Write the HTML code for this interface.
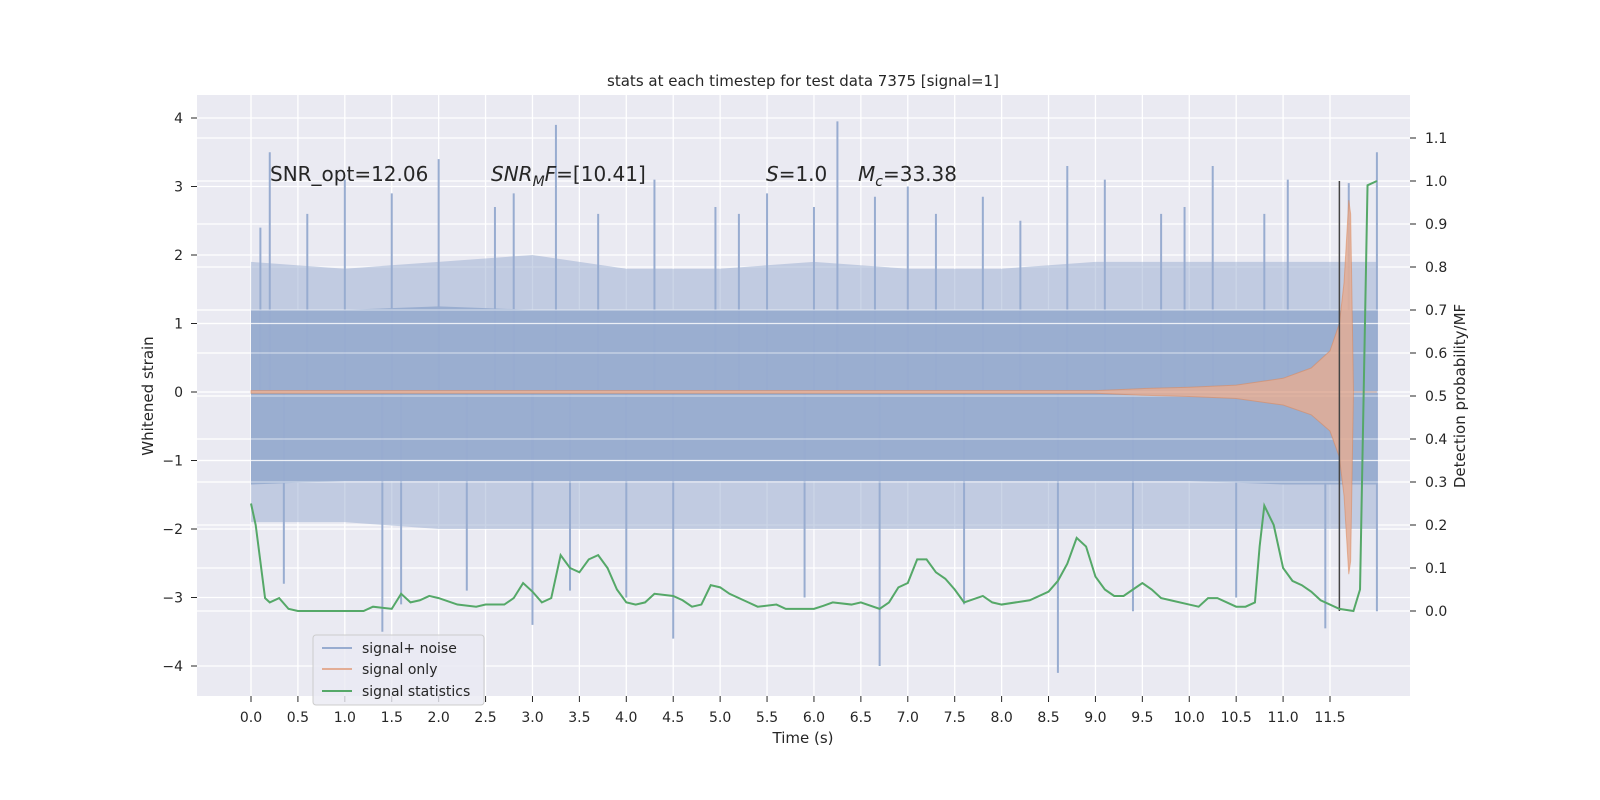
<!DOCTYPE html>
<html><head><meta charset="utf-8"><style>
html,body{margin:0;padding:0;width:1600px;height:800px;overflow:hidden;background:#fff;}
svg{display:block;font-family:"DejaVu Sans","Liberation Sans",sans-serif;}
</style></head><body>
<svg id="c" width="1600" height="800" viewBox="0 0 1600 800">
<rect x="197" y="95" width="1213" height="601" fill="#eaeaf2"/>
<g id="grid"></g><g id="marks"></g><g id="axes"></g>
<text x="803" y="86" text-anchor="middle" font-size="15" fill="#262626">stats at each timestep for test data 7375 [signal=1]</text>
<g font-size="20" fill="#262626">
<text x="270" y="181">SNR_opt=12.06</text>
<text x="491" y="181"><tspan font-style="italic">SNR</tspan><tspan font-style="italic" font-size="14" dy="5">M</tspan><tspan font-style="italic" dy="-5">F</tspan>=[10.41]</text>
<text x="766" y="181"><tspan font-style="italic">S</tspan>=1.0</text>
<text x="858" y="181"><tspan font-style="italic">M</tspan><tspan font-style="italic" font-size="14" dy="5">c</tspan><tspan dy="-5">=33.38</tspan></text>
</g>
<text x="803" y="743" text-anchor="middle" font-size="15" fill="#262626">Time (s)</text>
<text transform="translate(153,396) rotate(-90)" text-anchor="middle" font-size="15" fill="#262626">Whitened strain</text>
<text transform="translate(1465,396) rotate(-90)" text-anchor="middle" font-size="15" fill="#262626">Detection probability/MF</text>
<g>
<rect x="313" y="635" width="171" height="70" rx="3" fill="#eaeaf2" fill-opacity="0.8" stroke="#cccccc"/>
<line x1="322" y1="648" x2="352" y2="648" stroke="#98acd0" stroke-width="2"/>
<text x="362" y="653" font-size="14" fill="#262626">signal+ noise</text>
<line x1="322" y1="669" x2="352" y2="669" stroke="#e3ad95" stroke-width="2"/>
<text x="362" y="674" font-size="14" fill="#262626">signal only</text>
<line x1="322" y1="691" x2="352" y2="691" stroke="#55a868" stroke-width="2"/>
<text x="362" y="696" font-size="14" fill="#262626">signal statistics</text>
</g>
</svg>
<script>
const xTicks=[0,0.5,1,1.5,2,2.5,3,3.5,4,4.5,5,5.5,6,6.5,7,7.5,8,8.5,9,9.5,10,10.5,11,11.5];
const yTicks=[-4,-3,-2,-1,0,1,2,3,4];
const rTicks=[0,0.1,0.2,0.3,0.4,0.5,0.6,0.7,0.8,0.9,1.0,1.1];
const statT=[0,0.05,0.15,0.2,0.3,0.4,0.5,1.0,1.2,1.3,1.5,1.6,1.7,1.8,1.9,2.0,2.2,2.4,2.5,2.7,2.8,2.9,3.0,3.1,3.2,3.3,3.4,3.5,3.6,3.7,3.8,3.9,4.0,4.1,4.2,4.3,4.5,4.6,4.7,4.8,4.9,5.0,5.1,5.3,5.4,5.6,5.7,6.0,6.1,6.2,6.4,6.5,6.7,6.8,6.9,7.0,7.1,7.2,7.3,7.4,7.5,7.6,7.8,7.9,8.0,8.3,8.5,8.6,8.7,8.8,8.9,9.0,9.1,9.2,9.3,9.4,9.5,9.6,9.7,9.8,10.0,10.1,10.2,10.3,10.5,10.6,10.7,10.75,10.8,10.9,11.0,11.1,11.2,11.3,11.4,11.6,11.75,11.82,11.9,12.0];
const statV=[0.25,0.2,0.03,0.02,0.03,0.005,0.0,0.0,0.0,0.01,0.005,0.04,0.02,0.025,0.035,0.03,0.015,0.01,0.015,0.015,0.03,0.065,0.045,0.02,0.03,0.13,0.1,0.09,0.12,0.13,0.1,0.05,0.02,0.015,0.02,0.04,0.035,0.025,0.01,0.015,0.06,0.055,0.04,0.02,0.01,0.015,0.005,0.005,0.012,0.02,0.015,0.02,0.005,0.02,0.055,0.065,0.12,0.12,0.09,0.075,0.05,0.02,0.035,0.02,0.015,0.025,0.045,0.07,0.11,0.17,0.15,0.08,0.05,0.035,0.035,0.05,0.065,0.05,0.03,0.025,0.015,0.01,0.03,0.03,0.01,0.01,0.02,0.15,0.245,0.2,0.1,0.07,0.06,0.045,0.025,0.005,0.0,0.05,0.99,1.0];
const envT=[0,1,2,3,4,5,6,7,8,9,10,11,12];
const coreHi=[1.2,1.2,1.25,1.2,1.2,1.2,1.2,1.2,1.2,1.2,1.2,1.2,1.2];
const coreLo=[-1.35,-1.3,-1.3,-1.3,-1.3,-1.3,-1.3,-1.3,-1.3,-1.3,-1.3,-1.35,-1.35];
const fringeHi=[1.9,1.8,1.9,2.0,1.8,1.8,1.9,1.8,1.8,1.9,1.9,1.9,1.9];
const fringeLo=[-1.9,-1.9,-2.0,-2.0,-2.0,-2.0,-2.0,-2.0,-2.0,-2.0,-2.0,-2.0,-2.0];
const spikeT=[0.1,0.2,1.0,1.5,2.0,2.8,3.25,4.3,4.95,5.5,6.25,6.65,7.0,7.8,8.7,9.1,9.95,10.25,11.05,11.7,12.0,0.35,1.4,1.6,2.3,3.0,3.4,4.0,4.5,5.9,6.7,7.6,8.6,9.4,10.5,11.45,12.0,0.6,2.6,3.7,5.2,6.0,7.3,8.2,9.7,10.8];
const spikeV=[2.4,3.5,3.1,2.9,3.4,2.9,3.9,3.1,2.7,2.9,3.95,2.85,3.0,2.85,3.3,3.1,2.7,3.3,3.1,3.05,3.5,-2.8,-3.5,-3.1,-2.9,-3.4,-2.9,-3.0,-3.6,-3.0,-4.0,-3.1,-4.1,-3.2,-3.0,-3.45,-3.2,2.6,2.7,2.6,2.6,2.7,2.6,2.5,2.6,2.6];
const chirpT=[0,9,9.5,10,10.5,11,11.3,11.5,11.6,11.65,11.7,11.72,11.75,12];
const chirpA=[0.02,0.02,0.05,0.07,0.1,0.2,0.35,0.6,1.0,1.6,2.8,2.6,0,0];
const xs=t=>251+t*(1079/11.5), ys=v=>392-v*68.5, rs=p=>611-p*430;
const NS="http://www.w3.org/2000/svg";
function mk(tag,parent,attrs){const e=document.createElementNS(NS,tag);for(const k in attrs)e.setAttribute(k,attrs[k]);document.getElementById(parent).appendChild(e);return e;}
xTicks.forEach(t=>{const l=mk('line','grid',{x1:xs(t),x2:xs(t),y1:95,y2:696,stroke:'#fff','stroke-width':1.3});


const tx=mk('text','axes',{x:xs(t),y:722,'text-anchor':'middle','font-size':14,fill:'#262626'});tx.textContent=t.toFixed(1);


mk('line','axes',{x1:xs(t),x2:xs(t),y1:696,y2:702,stroke:'#262626'});});
yTicks.forEach(v=>{const l=mk('line','grid',{x1:197,x2:1410,y1:ys(v),y2:ys(v),stroke:'#fff','stroke-width':1.3});


const tx=mk('text','axes',{x:183,y:ys(v)+5,'text-anchor':'end','font-size':14,fill:'#262626'});tx.textContent=(v<0?'\u2212'+(-v):v);


mk('line','axes',{x1:191,x2:197,y1:ys(v),y2:ys(v),stroke:'#262626'});});
rTicks.forEach(p=>{const l=mk('line','grid',{x1:197,x2:1410,y1:rs(p),y2:rs(p),stroke:'#fff','stroke-width':1.3});


const tx=mk('text','axes',{x:1425,y:rs(p)+5,'font-size':14,fill:'#262626'});tx.textContent=p.toFixed(1);


mk('line','axes',{x1:1410,x2:1416,y1:rs(p),y2:rs(p),stroke:'#262626'});});
function band(hi,lo){let p=envT.map((t,i)=>xs(t)+','+ys(hi[i]));for(let i=envT.length-1;i>=0;i--)p.push(xs(envT[i])+','+ys(lo[i]));return p.join(' ');}
const fr=mk('polygon','marks',{points:band(fringeHi,fringeLo),fill:'#98acd0','fill-opacity':0.5});


const co=mk('polygon','marks',{points:band(coreHi,coreLo),fill:'#9aaed0'});


spikeT.forEach((t,i)=>{const s=mk('line','marks',{x1:xs(t),x2:xs(t),y1:ys(0),y2:ys(spikeV[i]),stroke:'#98acd0','stroke-width':2});

});
yTicks.forEach(v=>{if(v>=-1&&v<=1){mk('line','marks',{x1:197,x2:1410,y1:ys(v),y2:ys(v),stroke:'#fff','stroke-width':1.3,'stroke-opacity':0.8});}});
rTicks.forEach(p=>{if(p>=0.3&&p<=0.7){mk('line','marks',{x1:197,x2:1410,y1:rs(p),y2:rs(p),stroke:'#fff','stroke-width':1.3,'stroke-opacity':0.5});}});
let cp=chirpT.map((t,i)=>xs(t)+','+ys(chirpA[i]));for(let i=chirpT.length-1;i>=0;i--)cp.push(xs(chirpT[i])+','+ys(-chirpA[i]*0.95));
const ch=mk('polygon','marks',{points:cp.join(' '),fill:'#e3ad95','fill-opacity':0.85,stroke:'#dd8452','stroke-opacity':0.5,'stroke-width':1});


const vl=mk('line','marks',{x1:xs(11.6),x2:xs(11.6),y1:rs(1.0),y2:rs(0),stroke:'#444','stroke-width':1.5});


const gl=mk('polyline','marks',{points:statT.map((t,i)=>xs(t)+','+rs(statV[i])).join(' '),fill:'none',stroke:'#55a868','stroke-width':2});


</script>
</body></html>
